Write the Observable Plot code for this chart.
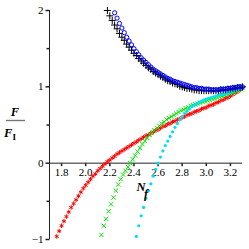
<!DOCTYPE html>
<html><head><meta charset="utf-8">
<script src="https://cdn.jsdelivr.net/npm/d3@7"></script>
<script src="https://cdn.jsdelivr.net/npm/@observablehq/plot@0.6"></script>
<style>html,body{margin:0;padding:0;background:#fff}</style>
</head><body><div id="chart"></div>
<script>
// ---- data ----
const redX = [1.76,1.78,1.80,1.82,1.84,1.86,1.88,1.90,1.92,1.94,1.96,1.98,2.00,2.02,2.04,2.06,2.08,2.10,2.12,2.14,2.16,2.18,2.20,2.22,2.24,2.26,2.28,2.30,2.32,2.34,2.36,2.38,2.40,2.42,2.44,2.46,2.48,2.50,2.52,2.54,2.56,2.58,2.60,2.62,2.64,2.66,2.68,2.70,2.72,2.74,2.76,2.78,2.80,2.82,2.84,2.86,2.88,2.90,2.92,2.94,2.96,2.98,3.00,3.02,3.04,3.06,3.08,3.10,3.12,3.14,3.16,3.18,3.20,3.22,3.24,3.26,3.28,3.30];
const redY = [-0.96,-0.89,-0.82,-0.76,-0.70,-0.64,-0.58,-0.53,-0.48,-0.43,-0.38,-0.33,-0.29,-0.25,-0.21,-0.17,-0.14,-0.10,-0.07,-0.04,-0.01,0.02,0.04,0.07,0.09,0.12,0.14,0.16,0.18,0.20,0.22,0.24,0.26,0.28,0.30,0.32,0.34,0.36,0.37,0.39,0.41,0.43,0.44,0.46,0.48,0.49,0.51,0.52,0.54,0.55,0.57,0.58,0.60,0.61,0.63,0.64,0.65,0.67,0.68,0.69,0.71,0.72,0.73,0.75,0.76,0.77,0.79,0.80,0.82,0.83,0.85,0.86,0.88,0.90,0.92,0.94,0.96,0.98];

const greenX = [2.13,2.15,2.17,2.19,2.21,2.23,2.25,2.27,2.29,2.31,2.33,2.35,2.37,2.39,2.41,2.43,2.45,2.47,2.49,2.51,2.53,2.55,2.57,2.59,2.61,2.63,2.65,2.67,2.69,2.71,2.73,2.75,2.77,2.79,2.81,2.83,2.85,2.87,2.89,2.91,2.93,2.95,2.97,2.99,3.01,3.03,3.05,3.07,3.09,3.11,3.13,3.15,3.17,3.19,3.21,3.23,3.25,3.27,3.29];
const greenY = [-0.94,-0.82,-0.73,-0.63,-0.54,-0.45,-0.36,-0.28,-0.21,-0.15,-0.10,-0.05,0.00,0.05,0.10,0.15,0.20,0.25,0.29,0.33,0.37,0.40,0.43,0.46,0.49,0.52,0.54,0.57,0.59,0.61,0.63,0.65,0.67,0.69,0.70,0.72,0.73,0.75,0.76,0.77,0.78,0.79,0.80,0.81,0.82,0.83,0.84,0.85,0.86,0.87,0.88,0.89,0.90,0.91,0.92,0.93,0.94,0.96,0.97];

const cyanX = [2.42,2.44,2.46,2.48,2.50,2.52,2.54,2.56,2.58,2.60,2.62,2.64,2.66,2.68,2.70,2.72,2.74,2.76,2.78,2.80,2.82,2.84,2.86,2.88,2.90,2.92,2.94,2.96,2.98,3.00,3.02,3.04,3.06,3.08,3.10,3.12,3.14,3.16,3.18,3.20,3.22,3.24,3.26,3.28,3.30];
const cyanY = [-0.96,-0.82,-0.69,-0.58,-0.46,-0.36,-0.27,-0.17,-0.08,0.00,0.08,0.16,0.23,0.29,0.35,0.41,0.47,0.52,0.57,0.61,0.65,0.68,0.71,0.74,0.76,0.78,0.80,0.81,0.83,0.84,0.85,0.86,0.87,0.88,0.89,0.90,0.90,0.91,0.92,0.93,0.94,0.95,0.96,0.97,0.98];

const blueX = [2.24,2.26,2.28,2.30,2.32,2.34,2.36,2.38,2.40,2.42,2.44,2.46,2.48,2.50,2.52,2.54,2.56,2.58,2.60,2.62,2.64,2.66,2.68,2.70,2.72,2.74,2.76,2.78,2.80,2.82,2.84,2.86,2.88,2.90,2.92,2.94,2.96,2.98,3.00,3.02,3.04,3.06,3.08,3.10,3.12,3.14,3.16,3.18,3.20,3.22,3.24,3.26,3.28,3.30];
const blueY = [1.97,1.90,1.83,1.77,1.71,1.65,1.60,1.55,1.50,1.46,1.42,1.38,1.35,1.32,1.29,1.26,1.23,1.21,1.19,1.17,1.15,1.13,1.11,1.10,1.08,1.07,1.06,1.05,1.04,1.03,1.02,1.01,1.00,0.99,0.99,0.98,0.98,0.97,0.97,0.97,0.96,0.96,0.96,0.96,0.97,0.97,0.97,0.98,0.98,0.99,0.99,1.00,1.00,1.00];

const blackX = [2.18,2.20,2.22,2.24,2.26,2.28,2.30,2.32,2.34,2.36,2.38,2.40,2.42,2.44,2.46,2.48,2.50,2.52,2.54,2.56,2.58,2.60,2.62,2.64,2.66,2.68,2.70,2.72,2.74,2.76,2.78,2.80,2.82,2.84,2.86,2.88,2.90,2.92,2.94,2.96,2.98,3.00,3.02,3.04,3.06,3.08,3.10,3.12,3.14,3.16,3.18,3.20,3.22,3.24,3.26,3.28,3.30];
const blackY = [2.00,1.93,1.87,1.81,1.76,1.70,1.65,1.61,1.56,1.52,1.48,1.44,1.41,1.37,1.34,1.31,1.28,1.25,1.23,1.20,1.18,1.16,1.14,1.12,1.10,1.08,1.07,1.05,1.04,1.03,1.01,1.00,0.99,0.98,0.98,0.97,0.96,0.96,0.95,0.95,0.95,0.95,0.95,0.95,0.95,0.95,0.95,0.96,0.96,0.96,0.97,0.97,0.98,0.98,0.99,0.99,1.00];

const xTickVals = [1.8,2.0,2.2,2.4,2.6,2.8,3.0,3.2];
const xTickLabels = ["1.8","2.0","2.2","2.4","2.6","2.8","3.0","3.2"];
const yMajorVals = [-1,0,1,2];
const yMajorLabels = ["\u22121","0","1","2"];
const yMinorVals = [-0.5,0.5,1.5];
const xDomain = [1.7,3.3];
const yDomain = [-1,2];

// ---- helpers ----
const pts = (xs, ys) => xs.slice(0, Math.min(xs.length, ys.length)).map((x, i) => ({x, y: ys[i]}));
const tickDown = {draw(c){ c.moveTo(0,0); c.lineTo(0,3); }};
const tickLeftMajor = {draw(c){ c.moveTo(0,0); c.lineTo(-4,0); }};
const tickLeftMinor = {draw(c){ c.moveTo(0,0); c.lineTo(-3,0); }};
const serif = "'Liberation Serif','Times New Roman',serif";

const chart = Plot.plot({
  width: 249, height: 249,
  marginLeft: 49, marginRight: 7, marginTop: 10, marginBottom: 10,
  x: {domain: xDomain, axis: null},
  y: {domain: yDomain, axis: null},
  style: {fontFamily: serif, fontSize: "11px", background: "#fff", color: "#000"},
  marks: [
    Plot.ruleX([xDomain[0]], {y1: yDomain[0], y2: yDomain[1], stroke: "#222"}),
    Plot.ruleY([0], {x1: xDomain[0], x2: xDomain[1], stroke: "#222"}),
    Plot.dot(xTickVals, {x: d => d, y: 0, symbol: tickDown, r: 1, stroke: "#222", fill: "none"}),
    Plot.dot(yMajorVals, {x: xDomain[0], y: d => d, symbol: tickLeftMajor, r: 1, stroke: "#222", fill: "none"}),
    Plot.dot(yMinorVals, {x: xDomain[0], y: d => d, symbol: tickLeftMinor, r: 1, stroke: "#222", fill: "none"}),
    Plot.text(xTickVals, {x: d => d, y: 0, dy: 9, text: (d, i) => xTickLabels[i], fontSize: 11, fill: "#000"}),
    Plot.text(yMajorVals, {x: xDomain[0], y: d => d, dx: -6, textAnchor: "end", text: (d, i) => yMajorLabels[i], fontSize: 11, fill: "#000"}),
    Plot.dot(pts(redX, redY), {x: "x", y: "y", symbol: "asterisk", r: 2.1, stroke: "#ff0000", strokeWidth: 1}),
    Plot.dot(pts(greenX, greenY), {x: "x", y: "y", symbol: "times", r: 2.1, stroke: "#00e600", strokeWidth: 1}),
    Plot.dot(pts(cyanX, cyanY), {x: "x", y: "y", symbol: "circle", r: 1.6, fill: "#00e0f0", stroke: "none"}),
    Plot.dot(pts(blackX, blackY), {x: "x", y: "y", symbol: "plus", r: 2.4, stroke: "#000", strokeWidth: 1}),
    Plot.dot(pts(blueX, blueY), {x: "x", y: "y", symbol: "circle", r: 2.1, stroke: "#0000ff", fill: "none", strokeWidth: 1})
  ]
});
document.getElementById("chart").appendChild(chart);

// axis titles
const svg = d3.select(chart);
const g = svg.append("g").attr("font-family", serif).attr("font-weight", "bold").attr("font-style", "italic").attr("fill", "#000");
g.append("text").attr("x", 15).attr("y", 116).attr("font-size", 12.5).attr("text-anchor", "middle").text("F");
g.append("line").attr("x1", 6).attr("x2", 25).attr("y1", 120.5).attr("y2", 120.5).attr("stroke", "#777").attr("stroke-width", 1.4);
const den = g.append("text").attr("x", 10).attr("y", 137).attr("font-size", 12.5);
den.append("tspan").text("F");
den.append("tspan").attr("font-size", 9).attr("font-style", "normal").attr("dy", 3).text("I");
const nl = g.append("text").attr("x", 141).attr("y", 191).attr("font-size", 12.5);
nl.append("tspan").text("N");
nl.append("tspan").attr("font-size", 12).attr("x", 146).attr("y", 198).text("f");
</script>
</body></html>
